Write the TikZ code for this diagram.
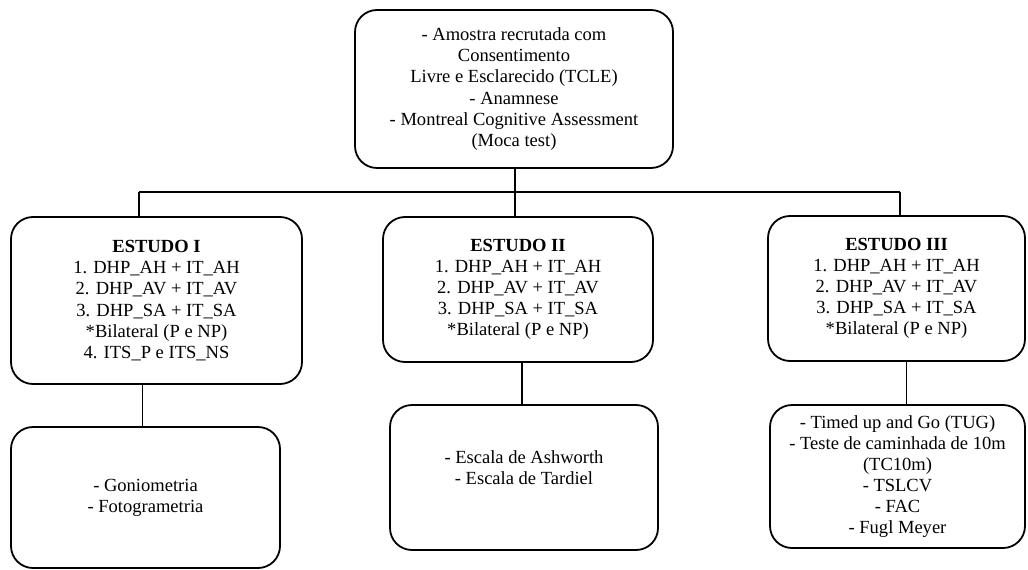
\documentclass[tikz,border=0pt]{standalone}
\usepackage{fontspec}
\setmainfont{Liberation Serif}
\usepackage{tikz}
\usetikzlibrary{positioning}

\begin{document}
\begin{tikzpicture}[x=1bp, y=-1bp,
            boxrnd/.style={draw=black, line width=1.8pt, rounded corners=22bp, align=center,
                font=\fontsize{18.6}{21.2}\selectfont, inner sep=0pt},
            conn/.style={draw=black, line width=1.8pt}
        ]
        \useasboundingbox (0,0) rectangle (1028,570);
        \node[boxrnd, minimum width=318bp, minimum height=158bp] (top) at (514,89)
            {- Amostra recrutada com\\Consentimento\\Livre e Esclarecido (TCLE)\\- Anamnese\\- Montreal Cognitive Assessment\\(Moca test)};
        \node[boxrnd, minimum width=291bp, minimum height=167bp] (e1) at (156.5,300.5)
            {\textbf{ESTUDO I}\\1. DHP\_AH + IT\_AH\\2. DHP\_AV + IT\_AV\\3. DHP\_SA + IT\_SA\\*Bilateral (P e NP)\\4. ITS\_P e ITS\_NS};
        \node[boxrnd, minimum width=270bp, minimum height=145bp] (e2) at (518,289.5)
            {\textbf{ESTUDO II}\\1. DHP\_AH + IT\_AH\\2. DHP\_AV + IT\_AV\\3. DHP\_SA + IT\_SA\\*Bilateral (P e NP)};
        \node[boxrnd, minimum width=257bp, minimum height=145bp] (e3) at (896.5,288.5)
            {\textbf{ESTUDO III}\\1. DHP\_AH + IT\_AH\\2. DHP\_AV + IT\_AV\\3. DHP\_SA + IT\_SA\\*Bilateral (P e NP)};
        \node[boxrnd, minimum width=269bp, minimum height=141bp] (m1) at (145.5,497.5)
            {- Goniometria\\- Fotogrametria};
        \node[boxrnd, minimum width=268bp, minimum height=145bp, text depth=20bp] (m2) at (524,477.5)
            {- Escala de Ashworth\\- Escala de Tardiel};
        \node[boxrnd, minimum width=255bp, minimum height=143bp] (m3) at (897.5,476.5)
            {- Timed up and Go (TUG)\\- Teste de caminhada de 10m\\(TC10m)\\- TSLCV\\- FAC\\- Fugl Meyer};
        \coordinate (busL) at (139,192);
        \coordinate (busR) at (900,192);
        \draw[conn] (busL) -- (busR);
        \draw[conn] ([xshift=1bp]top.south) -- ([xshift=1bp]e2.north -| top.south);
        \draw[conn] (busL) -- (busL |- e1.north);
        \draw[conn] (busR) -- (busR |- e3.north);
        \draw[conn] ([xshift=-14bp]e1.south) -- ([xshift=-14bp]e1.south |- m1.north);
        \draw[conn] ([xshift=4bp]e2.south) -- ([xshift=4bp]e2.south |- m2.north);
        \draw[conn] ([xshift=10bp]e3.south) -- ([xshift=10bp]e3.south |- m3.north);
\end{tikzpicture}
\end{document}
